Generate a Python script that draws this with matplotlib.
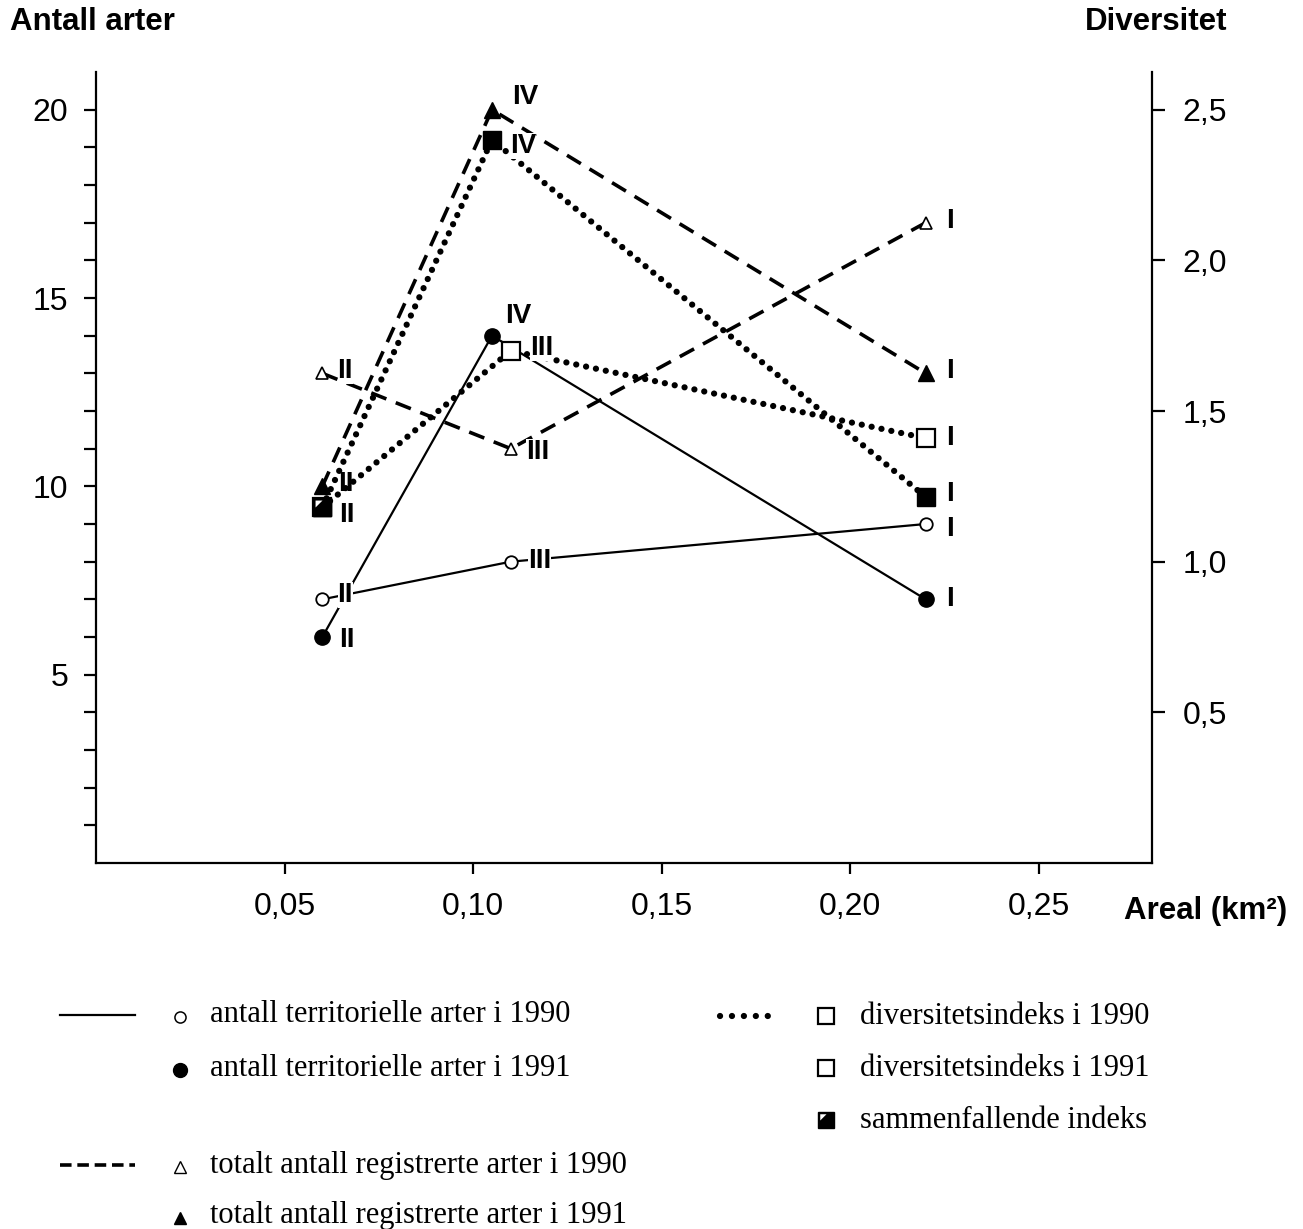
import matplotlib.pyplot as plt

plt.rcParams['font.family'] = ['Liberation Sans', 'DejaVu Sans']

# areal (km2)
x_terr_90 = [0.06, 0.11, 0.22]
terr_90 = [7, 8, 9]
x_terr_91 = [0.06, 0.105, 0.22]
terr_91 = [6, 14, 7]

x_tot_90 = [0.06, 0.11, 0.22]
tot_90 = [13, 11, 17]
x_tot_91 = [0.06, 0.105, 0.22]
tot_91 = [10, 20, 13]

# diversitetsindeks
x_div_90 = [0.06, 0.11, 0.22]
div_90 = [1.18, 1.70, 1.41]
x_div_91 = [0.06, 0.105, 0.22]
div_91 = [1.18, 2.40, 1.215]

# lokalitet for hvert punkt
lok_90 = ['II', 'III', 'I']
lok_91 = ['II', 'IV', 'I']

x_ticks = [0.05, 0.10, 0.15, 0.20, 0.25]
x_ticklabels = ['0,05', '0,10', '0,15', '0,20', '0,25']
y_ticks = [5, 10, 15, 20]
div_ticks = [0.5, 1.0, 1.5, 2.0, 2.5]
div_ticklabels = ['0,5', '1,0', '1,5', '2,0', '2,5']

legend_left = ['antall territorielle arter i 1990',
               'antall territorielle arter i 1991',
               'totalt antall registrerte arter i 1990',
               'totalt antall registrerte arter i 1991']
legend_right = ['diversitetsindeks i 1990',
                'diversitetsindeks i 1991',
                'sammenfallende indeks']

fig = plt.figure(figsize=(13.03, 12.29), dpi=100)
ax = fig.add_axes([0.0737, 0.2978, 0.8104, 0.6436])
ax2 = ax.twinx()

ax.set_xlim(0, 0.28)
ax.set_ylim(0, 21)
ax2.set_ylim(0, 21 / 8)

dotted = (0, (0.01, 1.6))
# hvit trekant i hjørnet = sammenfallende indeks
corner = [(-1, 1), (0, 1), (-1, 0), (-1, 1)]
lab_kw = dict(textcoords='offset points', ha='center', va='center',
              fontsize=20, fontweight='bold', zorder=6,
              bbox=dict(boxstyle='square,pad=0.0', fc='white', ec='none'))


def labels(a, xs, ys, names, offs):
    for xv, yv, nm, (dx, dy) in zip(xs, ys, names, offs):
        a.annotate(nm, (xv, yv), xytext=(dx / 1.389, dy / 1.389), **lab_kw)


# territorielle arter
ax.plot(x_terr_90, terr_90, color='black', lw=1.6, marker='o', ms=9,
        mfc='white', mec='black', mew=1.3, zorder=4)
ax.plot(x_terr_91, terr_91, color='black', lw=1.6, marker='o', ms=11,
        mfc='black', mec='black', zorder=4)
labels(ax, x_terr_90, terr_90, lok_90, [(23, 4), (29, 1), (24, -5)])
labels(ax, x_terr_91, terr_91, lok_91, [(25, -3), (26, 20), (24, 0)])

# totalt antall arter
ax.plot(x_tot_90, tot_90, color='black', lw=2.6, ls=(0, (4.5, 2.8)),
        marker='^', ms=9, mfc='white', mec='black', mew=1.2, zorder=4)
ax.plot(x_tot_91, tot_91, color='black', lw=2.6, ls=(0, (4.5, 2.8)),
        marker='^', ms=11, mfc='black', mec='black', zorder=4)
labels(ax, x_tot_90, tot_90, lok_90, [(23, 2), (27, -3), (24, 2)])
labels(ax, x_tot_91, tot_91, lok_91, [(24, 2), (33, 13), (24, 2)])

# diversitet (høyre akse)
ax2.plot(x_div_90, div_90, color='black', lw=4.5, ls=dotted,
         dash_capstyle='round', marker='s', ms=13, mfc='white',
         mec='black', mew=1.6, zorder=4)
ax2.plot(x_div_91, div_91, color='black', lw=4.5, ls=dotted,
         dash_capstyle='round', marker='s', ms=13, mfc='black',
         mec='black', zorder=4)
same = [i for i in range(len(div_90)) if x_div_90[i] == x_div_91[i] and div_90[i] == div_91[i]]
for i in same:
    ax2.plot([x_div_90[i]], [div_90[i]], marker='s', ms=13, color='black', zorder=5)
    ax2.plot([x_div_90[i]], [div_90[i]], marker=corner, ms=10, color='white',
             mew=0, zorder=5)
labels(ax2, x_div_90[1:], div_90[1:], lok_90[1:], [(31, 3), (24, 0)])
labels(ax2, x_div_91, div_91, lok_91, [(25, -8), (31, -6), (24, 3)])

# akser
for a in (ax, ax2):
    a.spines['top'].set_visible(False)
    for s in ('left', 'right', 'bottom'):
        a.spines[s].set_linewidth(1.6)
ax.spines['right'].set_visible(False)
ax2.spines['left'].set_visible(False)
ax2.spines['bottom'].set_visible(False)

ax.set_xticks(x_ticks)
ax.set_xticklabels(x_ticklabels)
ax.set_yticks(y_ticks)
ax.set_yticklabels([str(v) for v in y_ticks])
ax.set_yticks(range(1, 21), minor=True)
ax.tick_params(axis='y', which='both', length=9, width=1.6, direction='out')
ax.tick_params(axis='y', which='major', labelsize=23, pad=11)
ax.tick_params(axis='x', length=8, width=1.6, direction='out', labelsize=23, pad=13)
ax2.set_yticks(div_ticks)
ax2.set_yticklabels(div_ticklabels)
ax2.tick_params(axis='y', length=9, width=1.6, direction='out', labelsize=23, pad=13)

fig.text(10 / 1303, 1 - 22 / 1229, 'Antall arter', fontsize=22.5, fontweight='bold',
         ha='left', va='center')
fig.text(1227 / 1303, 1 - 22 / 1229, 'Diversitet', fontsize=22.5, fontweight='bold',
         ha='right', va='center')
fig.text(1287 / 1303, 1 - 911 / 1229, 'Areal (km²)', fontsize=22.5, fontweight='bold',
         ha='right', va='center')

# forklaring
lax = fig.add_axes([0, 0, 1, 1])
lax.set_xlim(0, 1303)
lax.set_ylim(1229, 0)
lax.axis('off')

serif = dict(family=['Liberation Serif', 'DejaVu Serif'], fontsize=22, va='center', ha='left')
rows_left = [1015, 1068, 1165, 1216]
mk_left = [dict(marker='o', ms=8, mfc='white', mec='black', mew=1.1),
           dict(marker='o', ms=10, mfc='black', mec='black'),
           dict(marker='^', ms=8, mfc='white', mec='black', mew=1.0),
           dict(marker='^', ms=9, mfc='black', mec='black')]
for yy, txt, mk in zip(rows_left, legend_left, mk_left):
    lax.plot([180], [yy + 2], color='black', ls='none', **mk)
    lax.text(210, yy, txt, **serif)
lax.plot([60, 135], [rows_left[0], rows_left[0]], color='black', lw=1.6)
lax.plot([60, 135], [rows_left[2], rows_left[2]], color='black', lw=2.6, ls=(0, (3.2, 1.6)))

rows_right = [1016, 1068, 1120]
for yy, txt in zip(rows_right, legend_right):
    lax.text(860, yy, txt, **serif)
lax.plot([720, 776], [rows_right[0], rows_right[0]], color='black', lw=4.5, ls=(0, (0.01, 1.9)),
         dash_capstyle='round')
lax.plot([826, 826], rows_right[:2], ls='none', marker='s', ms=12, mfc='white',
         mec='black', mew=1.6)
lax.plot([826], [rows_right[2]], ls='none', marker='s', ms=12, color='black')
lax.plot([826], [rows_right[2]], ls='none', marker=corner, ms=9, color='white', mew=0)

fig.savefig('out.png', dpi=100)
